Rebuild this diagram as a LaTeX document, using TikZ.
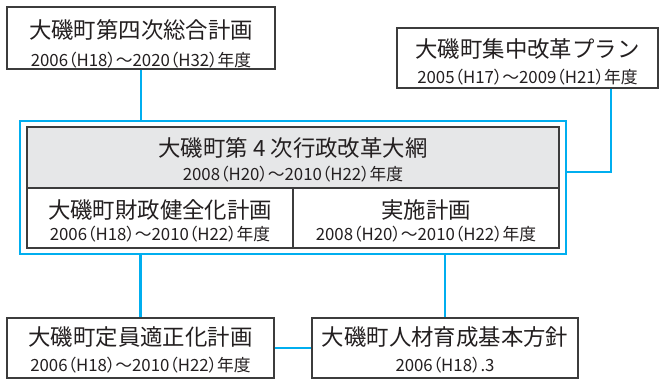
\documentclass[tikz,border=0pt]{standalone}
\usepackage{fontspec}
\setmainfont{Noto Sans CJK JP}
\newfontfamily\palfont[RawFeature=+palt]{Noto Sans CJK JP}
\usetikzlibrary{calc}
\definecolor{lineblue}{RGB}{0,174,239}
\definecolor{boxgray}{RGB}{230,231,232}
\definecolor{ink}{RGB}{35,31,32}
\definecolor{edge}{RGB}{60,60,60}
\newcommand{\ttl}{\fontsize{16.8}{18}\selectfont}
\newcommand{\sbt}{\palfont\fontsize{12.6}{13}\selectfont}
\begin{document}
\begin{tikzpicture}[x=0.75pt,y=-0.75pt,
  plainbox/.style={draw=edge,line width=0.8pt,fill=white,inner sep=0pt,minimum width=#1*0.75pt},
  blueline/.style={draw=lineblue,line width=2.1pt},
  ttlnode/.style={inner sep=0pt,text=ink,font=\ttl},
  sbtnode/.style={inner sep=0pt,text=ink,font=\sbt}]
\useasboundingbox (0,0) rectangle (660,380);
% boxes
\node[plainbox=268,minimum height=62*0.75pt] (b1) at (141,38) {};
\node[plainbox=261,minimum height=60*0.75pt] (b2) at (527.5,58) {};
\node[draw=lineblue,line width=2.1pt,fill=white,inner sep=0pt,minimum width=546*0.75pt,minimum height=133*0.75pt] (outer) at (293,187.5) {};
\node[draw=edge,line width=0.8pt,fill=boxgray,inner sep=0pt,minimum width=532*0.75pt,minimum height=61*0.75pt] (gray) at (293,157.5) {};
\node[plainbox=266,minimum height=60*0.75pt] (cl) at (160,218) {};
\node[plainbox=266,minimum height=60*0.75pt] (cr) at (426,218) {};
\node[plainbox=267,minimum height=60*0.75pt] (b5) at (140.5,348) {};
\node[plainbox=266,minimum height=60*0.75pt] (b6) at (445,348) {};
% texts
\node[ttlnode] (t1) at ($(b1.north)+(0,23.5)$) {大磯町第四次総合計画};
\node[sbtnode] (s1) at ($(b1.north)+(0,53.5)$) {2006（H18）～2020（H32）年度};
\node[ttlnode] (t2) at ($(b2.north)+(0,22)$) {大磯町集中改革プラン};
\node[sbtnode] (s2) at ($(b2.north)+(0,50)$) {2005（H17）～2009（H21）年度};
\node[ttlnode] (tg) at ($(gray.north)+(0,22)$) {大磯町第 4 次行政改革大網};
\node[sbtnode] (sg) at ($(gray.north)+(0,48)$) {2008（H20）～2010（H22）年度};
\node[ttlnode] (tl) at ($(cl.north)+(0,23)$) {大磯町財政健全化計画};
\node[sbtnode] (sl) at ($(cl.north)+(0,46.5)$) {2006（H18）～2010（H22）年度};
\node[ttlnode] (tr) at ($(cr.north)+(0,23)$) {実施計画};
\node[sbtnode] (sr) at ($(cr.north)+(0,46.5)$) {2008（H20）～2010（H22）年度};
\node[ttlnode] (t5) at ($(b5.north)+(0,20)$) {大磯町定員適正化計画};
\node[sbtnode] (s5) at ($(b5.north)+(0,48)$) {2006（H18）～2010（H22）年度};
\node[ttlnode] (t6) at ($(b6.north)+(0,20)$) {大磯町人材育成基本方針};
\node[sbtnode] (s6) at ($(b6.north)+(0,48)$) {2006（H18）.3};
% connectors
\coordinate (k2) at (611,172);
\draw[blueline] (b1.south) -- (b1.south |- outer.north);
\draw[blueline] (b2.south -| k2) -- (k2) -- (k2 -| outer.east);
\draw[blueline] (outer.south -| b5.north) -- (b5.north);
\draw[blueline] (outer.south -| b6.north) -- (b6.north);
\draw[blueline] (b5.east) -- (b6.west);
\end{tikzpicture}
\end{document}
